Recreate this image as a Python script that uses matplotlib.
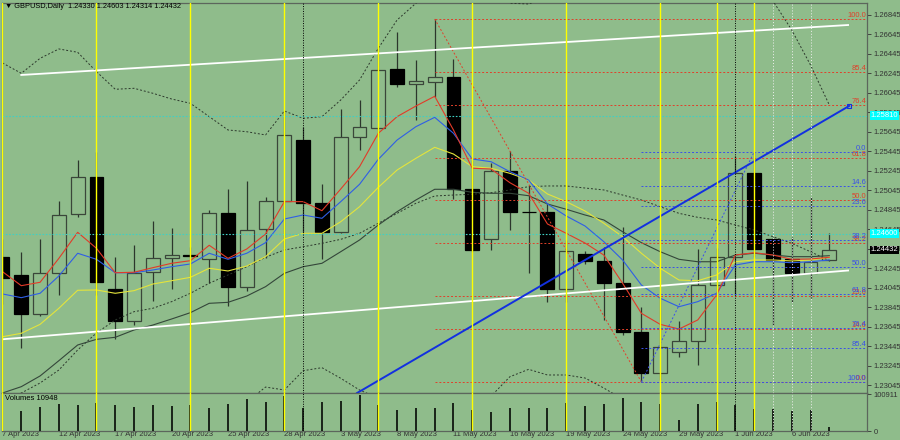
import matplotlib
matplotlib.use('Agg')
import matplotlib.pyplot as plt
from matplotlib.patches import Rectangle
from matplotlib.transforms import blended_transform_factory

plt.rcParams['font.family'] = ['Liberation Sans', 'DejaVu Sans']

# ---------------- data ----------------
date_labels = ['7 Apr 2023', '12 Apr 2023', '17 Apr 2023', '20 Apr 2023', '25 Apr 2023',
               '28 Apr 2023', '3 May 2023', '8 May 2023', '11 May 2023', '16 May 2023',
               '19 May 2023', '24 May 2023', '29 May 2023', '1 Jun 2023', '6 Jun 2023']
date_label_bars = [0, 3, 6, 9, 12, 15, 18, 21, 24, 27, 30, 33, 36, 39, 42]

opens = [1.24360, 1.24175, 1.23774, 1.24195, 1.24801, 1.25181, 1.24031, 1.23702, 1.24206, 1.24349,
         1.24380, 1.24339, 1.24811, 1.24052, 1.24647, 1.24935, 1.25561, 1.24914, 1.24616, 1.25592,
         1.25684, 1.26290, 1.26136, 1.26157, 1.26208, 1.25058, 1.24544, 1.25243, 1.24822, 1.24822,
         1.24031, 1.24390, 1.24319, 1.24093, 1.23589, 1.23168, 1.23384, 1.23497, 1.24072, 1.24360,
         1.25222, 1.24544, 1.24339, 1.24195, 1.24330]
highs = [1.24544, 1.24411, 1.24544, 1.24935, 1.25356, 1.25438, 1.24360, 1.24483, 1.24729, 1.24658,
         1.24462, 1.24842, 1.25058, 1.25140, 1.24976, 1.25859, 1.25695, 1.25109, 1.25880, 1.25972,
         1.26516, 1.26670, 1.26383, 1.26804, 1.26393, 1.25356, 1.25325, 1.25448, 1.25099, 1.24914,
         1.24534, 1.24421, 1.24462, 1.24668, 1.23846, 1.23936, 1.23702, 1.24439, 1.24452, 1.25397,
         1.25438, 1.24565, 1.24565, 1.24976, 1.24603]
lows = [1.23877, 1.23425, 1.23754, 1.23969, 1.24770, 1.23969, 1.23518, 1.23661, 1.23908, 1.24031,
        1.23651, 1.24093, 1.23856, 1.24010, 1.24349, 1.24452, 1.24616, 1.24339, 1.24606, 1.25459,
        1.25592, 1.26106, 1.25767, 1.26003, 1.24955, 1.24411, 1.24431, 1.24637, 1.24195, 1.23897,
        1.23897, 1.24288, 1.23712, 1.23559, 1.23076, 1.23096, 1.23333, 1.23251, 1.23466, 1.23969,
        1.24360, 1.23661, 1.23897, 1.23938, 1.24314]
closes = [1.24144, 1.23774, 1.24195, 1.24791, 1.25181, 1.24103, 1.23702, 1.24195, 1.24349, 1.24380,
          1.24375, 1.24811, 1.24052, 1.24637, 1.24935, 1.25613, 1.24914, 1.24616, 1.25592, 1.25695,
          1.26280, 1.26136, 1.26167, 1.26208, 1.25058, 1.24431, 1.25243, 1.24822, 1.24817, 1.24031,
          1.24421, 1.24319, 1.24093, 1.23589, 1.23168, 1.23435, 1.23497, 1.24072, 1.24360, 1.25222,
          1.24442, 1.24329, 1.24195, 1.24308, 1.24432]
volumes = [32700, 53700, 65500, 72800, 70100, 77200, 70100, 64600, 70100, 68200,
           70100, 63500, 74500, 86500, 79900, 94600, 61900, 79900, 81000, 97400,
           70100, 56500, 62700, 63500, 77200, 58100, 51000, 62700, 63500, 63500,
           75500, 69000, 72800, 89200, 78300, 74500, 30000, 73600, 79900, 70900,
           60000, 60000, 54500, 56500, 10948]

ma_red = [1.24209, 1.24065, 1.24100, 1.24346, 1.24613, 1.24449, 1.24198, 1.24203, 1.24250, 1.24295,
          1.24322, 1.24480, 1.24346, 1.24442, 1.24596, 1.24928, 1.24928, 1.24835, 1.25058, 1.25287,
          1.25630, 1.25801, 1.25910, 1.26010, 1.25664, 1.25271, 1.25263, 1.25123, 1.25014, 1.24699,
          1.24603, 1.24503, 1.24380, 1.24090, 1.23781, 1.23668, 1.23620, 1.23713, 1.23969, 1.24380,
          1.24404, 1.24380, 1.24336, 1.24339, 1.24357]
ma_blue = [1.23980, 1.23942, 1.23987, 1.24165, 1.24398, 1.24336, 1.24198, 1.24198, 1.24226, 1.24260,
           1.24288, 1.24398, 1.24336, 1.24398, 1.24507, 1.24750, 1.24791, 1.24757, 1.24928, 1.25106,
           1.25363, 1.25561, 1.25698, 1.25794, 1.25630, 1.25366, 1.25338, 1.25236, 1.25150, 1.24904,
           1.24781, 1.24678, 1.24517, 1.24329, 1.24072, 1.23936, 1.23849, 1.23901, 1.23987, 1.24277,
           1.24311, 1.24311, 1.24301, 1.24311, 1.24329]
ma_yellow = [1.23541, 1.23576, 1.23668, 1.23833, 1.24018, 1.24021, 1.23987, 1.24014, 1.24082, 1.24116,
             1.24151, 1.24244, 1.24216, 1.24267, 1.24363, 1.24544, 1.24603, 1.24603, 1.24722, 1.24876,
             1.25075, 1.25253, 1.25373, 1.25486, 1.25417, 1.25287, 1.25271, 1.25219, 1.25150, 1.25007,
             1.24928, 1.24832, 1.24706, 1.24568, 1.24398, 1.24244, 1.24123, 1.24116, 1.24175, 1.24311,
             1.24329, 1.24329, 1.24319, 1.24329, 1.24357]
ma_gray = [1.22963, 1.23028, 1.23138, 1.23295, 1.23456, 1.23514, 1.23535, 1.23610, 1.23661, 1.23723,
           1.23788, 1.23884, 1.23894, 1.23959, 1.24055, 1.24192, 1.24260, 1.24295, 1.24414, 1.24534,
           1.24688, 1.24825, 1.24945, 1.25055, 1.25055, 1.25024, 1.25014, 1.25014, 1.24989, 1.24904,
           1.24850, 1.24791, 1.24740, 1.24619, 1.24507, 1.24414, 1.24336, 1.24311, 1.24311, 1.24380,
           1.24398, 1.24380, 1.24363, 1.24363, 1.24373]
bb_mid = [1.22891, 1.22963, 1.23066, 1.23199, 1.23405, 1.23579, 1.23713, 1.23798, 1.23833, 1.23901,
          1.23987, 1.24090, 1.24175, 1.24260, 1.24357, 1.24432, 1.24465, 1.24500, 1.24541, 1.24603,
          1.24706, 1.24808, 1.24911, 1.24986, 1.24996, 1.25004, 1.25020, 1.25048, 1.25082, 1.25089,
          1.25089, 1.25068, 1.25048, 1.24996, 1.24945, 1.24876, 1.24808, 1.24767, 1.24740, 1.24688,
          1.24637, 1.24568, 1.24500, 1.24414, 1.24322]
bb_upper = [1.26352, 1.26246, 1.26400, 1.26496, 1.26462, 1.26263, 1.26082, 1.26092, 1.26041, 1.25982,
            1.25938, 1.25801, 1.25664, 1.25646, 1.25613, 1.25859, 1.25784, 1.25801, 1.25972, 1.26177,
            1.26503, 1.26794, 1.26965, 1.27120, 1.27150, 1.27120, 1.27110, 1.26966, 1.26958, 1.27030,
            1.27030, 1.27019, 1.27082, 1.27050, 1.27080, 1.27100, 1.27120, 1.27120, 1.27100, 1.27060,
            1.27030, 1.26990, 1.26691, 1.26331, 1.25921]
bb_lower = [1.19430, 1.19680, 1.19730, 1.19900, 1.20350, 1.20900, 1.21340, 1.21500, 1.21630, 1.21820,
            1.22040, 1.22380, 1.22690, 1.22870, 1.23024, 1.22994, 1.23192, 1.23223, 1.23114, 1.22994,
            1.22910, 1.22820, 1.22860, 1.22850, 1.22840, 1.22890, 1.22930, 1.23130, 1.23206, 1.23148,
            1.23148, 1.23117, 1.23014, 1.22900, 1.22810, 1.22650, 1.22500, 1.22410, 1.22380, 1.22320,
            1.22240, 1.22150, 1.22310, 1.22500, 1.22720]

# Fibonacci objects (anchors) and levels
fib_red_anchor = [(23, 1.26804), (34, 1.23076)]      # 100 at high, 0 at low
fib_red_levels = [0.0, 14.6, 23.6, 38.2, 50.0, 61.8, 76.4, 85.4, 100.0]
fib_blue_anchor = [(34, 1.23076), (40, 1.25438)]     # 100 at low, 0 at high
fib_blue_levels = [0.0, 14.6, 23.6, 38.2, 50.0, 61.8, 76.4, 85.4, 100.0]

# trend lines (bar, price)
white_upper = [(1.0, 1.26229), (45.0, 1.26742)]
white_lower = [(-1.0, 1.23499), (45.0, 1.24221)]
blue_trend = [(18.87, 1.22963), (45.05, 1.25910)]
cyan_levels = [1.25810, 1.24600]
cyan_labels = ['1.25810', '1.24600']

yellow_vlines = [0, 5, 10, 15, 20, 25, 30, 35, 38, 40]
black_vlines = [16, 39]
white_vlines = [41, 42, 43]

price_ticks = [1.26845, 1.26645, 1.26445, 1.26245, 1.26045, 1.25845, 1.25645, 1.25445, 1.25245,
               1.25045, 1.24845, 1.24645, 1.24445, 1.24245, 1.24045, 1.23845, 1.23645, 1.23445,
               1.23245, 1.23045]
last_close = 1.24432
volume_max_label = 100911

# ---------------- style ----------------
BG = '#8fbc8b'
W, H = 900, 440
FS = 5.5

fig = plt.figure(figsize=(W / 100, H / 100), dpi=100, facecolor=BG)
ax = fig.add_axes([2 / W, 47 / H, 865 / W, 390 / H], facecolor=BG)
axv = fig.add_axes([2 / W, 9 / H, 865 / W, 38 / H], facecolor=BG, sharex=ax)

xmin, xmax = -0.0266, 46.006
ax.set_xlim(xmin, xmax)
ax.set_ylim(1.22963, 1.26968)
axv.set_ylim(0, 104000)

n = len(opens)
xs = list(range(n))
bw = 0.74

# candles
for i in range(n):
    o, h, l, c = opens[i], highs[i], lows[i], closes[i]
    ax.vlines(i, l, h, color='#2c362c', lw=0.9, zorder=2)
    lo, hi = min(o, c), max(o, c)
    if c >= o:
        ax.add_patch(Rectangle((i - bw / 2, lo), bw, max(hi - lo, 0.00002), facecolor=BG,
                               edgecolor='#3a463a', lw=0.9, zorder=2.5))
    else:
        ax.add_patch(Rectangle((i - bw / 2, lo), bw, max(hi - lo, 0.00002), facecolor='black',
                               edgecolor='black', lw=0.9, zorder=2.5))

# indicators
ax.plot(xs, bb_upper, color='#2c382c', lw=0.7, ls=(0, (2, 2)), zorder=3)
ax.plot(xs, bb_lower, color='#2c382c', lw=0.7, ls=(0, (2, 2)), zorder=3)
ax.plot(xs, bb_mid, color='#2c382c', lw=0.7, ls=(0, (2, 2)), zorder=3)
ax.plot(xs, ma_gray, color='#34463a', lw=0.8, zorder=3)
ax.plot(xs, ma_yellow, color='#e4e43c', lw=0.8, zorder=3.1)
ax.plot(xs, ma_blue, color='#2f5ee6', lw=0.8, zorder=3.2)
ax.plot(xs, ma_red, color='#e23a28', lw=0.8, zorder=3.3)

# cyan horizontal lines
for lv in cyan_levels:
    ax.axhline(lv, color='#3fd0c4', lw=0.8, ls=(0, (1.5, 1.5)), zorder=3.5)

# fibonacci
tr = blended_transform_factory(ax.transAxes, ax.transData)
(rx0, rp100), (rx1, rp0) = fib_red_anchor
ax.plot([rx0, rx1], [rp100, rp0], color='#e0402a', lw=0.7, ls=(0, (2, 2)), zorder=4)
for lv in fib_red_levels:
    p = rp0 + lv / 100.0 * (rp100 - rp0)
    ax.plot([rx0, xmax], [p, p], color='#e0402a', lw=0.7, ls=(0, (2, 2)), zorder=4)
    ax.text(0.999, p, f'{lv:.1f}', transform=tr, ha='right', va='bottom', fontsize=FS,
            color='#e0402a', zorder=4)
(bx0, bp100), (bx1, bp0) = fib_blue_anchor
ax.plot([bx0, bx1], [bp100, bp0], color='#3a50e8', lw=0.7, ls=(0, (2, 2)), zorder=4.2)
for lv in fib_blue_levels:
    p = bp0 - lv / 100.0 * (bp0 - bp100)
    ax.plot([bx0, xmax], [p, p], color='#3a50e8', lw=0.7, ls=(0, (2, 2)), zorder=4.2)
    ax.text(0.999, p, f'{lv:.1f}', transform=tr, ha='right', va='bottom', fontsize=FS,
            color='#3a50e8', zorder=4.2)

# trend lines
ax.plot([p[0] for p in white_upper], [p[1] for p in white_upper], color='white', lw=1.3, zorder=5)
ax.plot([p[0] for p in white_lower], [p[1] for p in white_lower], color='white', lw=1.3, zorder=5)
ax.plot([p[0] for p in blue_trend], [p[1] for p in blue_trend], color='#1230e0', lw=1.4, zorder=5)
ax.plot([blue_trend[1][0]], [blue_trend[1][1]], marker='s', ms=2.5, mfc='none', mec='#1230e0',
        mew=0.8, zorder=5)

# vertical separators
for a in (ax, axv):
    for b in yellow_vlines:
        a.axvline(b, color='#ffff00', lw=1.0, zorder=6)
    for b in black_vlines:
        a.axvline(b, color='black', lw=0.7, ls=(0, (1, 1.5)), zorder=6)
    for b in white_vlines:
        a.axvline(b, color='#f0f0f0', lw=0.7, ls=(0, (1, 2)), zorder=6)

# volumes
axv.vlines(xs, 0, volumes, color='#101810', lw=1.3, zorder=3)

# axes styling
for a in (ax, axv):
    for s in a.spines.values():
        s.set_color('#5c665c')
        s.set_linewidth(0.9)
    a.yaxis.tick_right()
    a.tick_params(axis='y', direction='out', length=3, width=0.6, colors='#333333',
                  labelsize=FS, pad=1.5)

ax.set_yticks(price_ticks)
ax.set_yticklabels([f'{t:.5f}' for t in price_ticks])
ax.tick_params(axis='x', bottom=False, labelbottom=False)

axv.set_yticks([0, volume_max_label])
axv.set_yticklabels(['0', str(volume_max_label)])
axv.set_xticks(date_label_bars)
axv.set_xticklabels(date_labels, ha='left')
axv.tick_params(axis='x', direction='out', length=0, width=0.6, colors='#333333',
                labelsize=FS, pad=0.2)

# price labels on axis
for lv, lab in zip(cyan_levels, cyan_labels):
    ax.text(1.004, lv, lab, transform=tr, ha='left', va='center', fontsize=FS, color='white',
            bbox=dict(boxstyle='square,pad=0.12', fc='#00ffff', ec='none'), clip_on=False, zorder=7)
ax.text(1.004, last_close, f'{last_close:.5f}', transform=tr, ha='left', va='center', fontsize=FS,
        color='white', bbox=dict(boxstyle='square,pad=0.12', fc='black', ec='none'),
        clip_on=False, zorder=7)

# header texts
fig.text(5 / W, 1 - 7 / H, '\u25bc GBPUSD,Daily  1.24330 1.24603 1.24314 1.24432',
         fontsize=5.3, va='center', ha='left', color='black')
fig.text(5 / W, 1 - 398 / H, 'Volumes 10948', fontsize=FS, va='center', ha='left', color='black')

fig.savefig('out.png', dpi=100, facecolor=BG)
